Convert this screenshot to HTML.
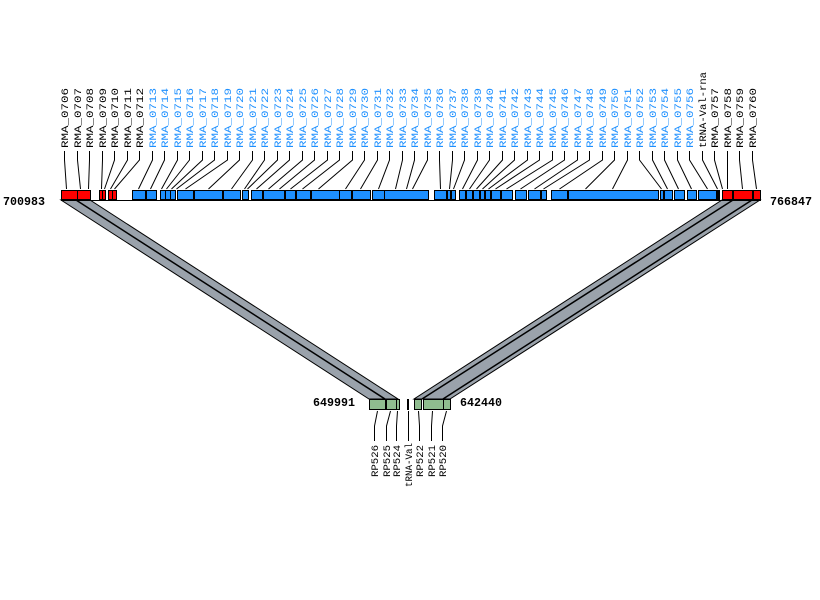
<!DOCTYPE html>
<html><head><meta charset="utf-8"><style>body{margin:0;background:#fff}svg{display:block}</style></head>
<body>
<svg id="s" width="820" height="600" xmlns="http://www.w3.org/2000/svg" font-family="Liberation Mono, monospace">
<rect width="820" height="600" fill="#fff"/>
<g id="bands"></g>
<g id="blocks"></g>
<g id="lines" stroke="#000" stroke-width="1" fill="none"></g>
<g id="labels" font-size="10"></g>
<text x="3" y="205" font-size="12" font-weight="bold" textLength="42" lengthAdjust="spacingAndGlyphs">700983</text>
<text x="770" y="205" font-size="12" font-weight="bold" textLength="42" lengthAdjust="spacingAndGlyphs">766847</text>
<text x="313" y="406" font-size="12" font-weight="bold" textLength="42" lengthAdjust="spacingAndGlyphs">649991</text>
<text x="460" y="406" font-size="12" font-weight="bold" textLength="42" lengthAdjust="spacingAndGlyphs">642440</text>
</svg>
<script>
var NS="http://www.w3.org/2000/svg";
function el(p,t,a,txt){var e=document.createElementNS(NS,t);for(var k in a)e.setAttribute(k,a[k]);if(txt)e.textContent=txt;document.getElementById(p).appendChild(e);return e;}
el("bands","polygon",{points:"61,200 90,200 398,399 369,399",fill:"#9aa2ab",stroke:"#000","stroke-width":"1"});
el("bands","line",{x1:76,y1:200,x2:385,y2:399,stroke:"#000","stroke-width":"1.5"});
el("bands","polygon",{points:"722,200 760,200 450,399 414,399",fill:"#9aa2ab",stroke:"#000","stroke-width":"1"});
el("bands","line",{x1:733,y1:200,x2:422,y2:399,stroke:"#000","stroke-width":"1.5"});
el("bands","line",{x1:752,y1:200,x2:443,y2:399,stroke:"#000","stroke-width":"1.5"});
var red=[[61,77],[77,90],[99,102],[102,105],[108,112],[112,116],[722,732],[733,752],[753,760]];
var blue=[[132,145],[146,156],[160,165],[165,170],[170,175],[177,193],[194,222],[223,240],[242,248],[251,262],[263,284],[285,295],[296,310],[311,339],[339,351],[352,370],[372,384],[384,428],[434,446],[447,450],[451,455],[459,465],[466,472],[473,479],[480,484],[485,490],[491,500],[501,512],[515,526],[528,540],[541,546],[551,567],[568,658],[660,663],[664,672],[674,684],[687,696],[698,716]];
red.forEach(function(b){el("blocks","rect",{x:b[0]+.5,y:190.5,width:b[1]-b[0],height:9,fill:"#ff0000",stroke:"#000"});});
blue.forEach(function(b){el("blocks","rect",{x:b[0]+.5,y:190.5,width:b[1]-b[0],height:9,fill:"#1e90ff",stroke:"#000"});});
el("blocks","rect",{x:716,y:190,width:4,height:10,fill:"#000"});
el("blocks","line",{x1:61,y1:200.5,x2:761,y2:200.5,stroke:"#000"});
[[369,385],[386,396],[396,399],[414,421],[423,443],[443,450]].forEach(function(b){el("blocks","rect",{x:b[0]+.5,y:399.5,width:b[1]-b[0],height:10,fill:"#8fbc8f",stroke:"#000"});});
el("blocks","rect",{x:407,y:399,width:2,height:11,fill:"#000"});
var names=[];for(var i=706;i<=756;i++)names.push("RMA_0"+i);names.push("tRNA-Val-rna");for(i=757;i<=760;i++)names.push("RMA_0"+i);
var tg=[66,80,88,101,104,110,114,138,150,161,166,171,176,185,208,231,244,247,256,268,279,290,302,318,345,360,378,395,406,412,440,449,453,462,469,476,482,488,495,506,520,534,543,559,585,612,661,667,678,691,707,717,722,727,742,756];
names.forEach(function(n,i){
 var x=Math.round(64+12.5*i);
 var blk=(i<7||i>=51);
 var col=blk?"#000":"#1e90ff";
 var len=n.length>8?76:60;
 el("labels","text",{transform:"translate("+(x+4)+",148) rotate(-90)",fill:col,textLength:len,lengthAdjust:"spacingAndGlyphs"},n);
 el("lines","polyline",{points:(x+.5)+",151 "+(x+.5)+",160 "+(tg[i]+.5)+",189"});
});
var bn=["RP526","RP525","RP524","tRNA-Val","RP522","RP521","RP520"];
var bx=[374,386,396,408,419,431,442];
var bt=[377,390,397,408,418,432,446];
bn.forEach(function(n,i){
 var x=bx[i];
 var by=n.length>5?487:477;
 el("labels","text",{transform:"translate("+(x+4)+","+by+") rotate(-90)",fill:"#000",textLength:n.length>5?44:32,lengthAdjust:"spacingAndGlyphs"},n);
 el("lines","polyline",{points:(bt[i]+.5)+",411 "+(x+.5)+",426 "+(x+.5)+",441"});
});
</script>
</body></html>
